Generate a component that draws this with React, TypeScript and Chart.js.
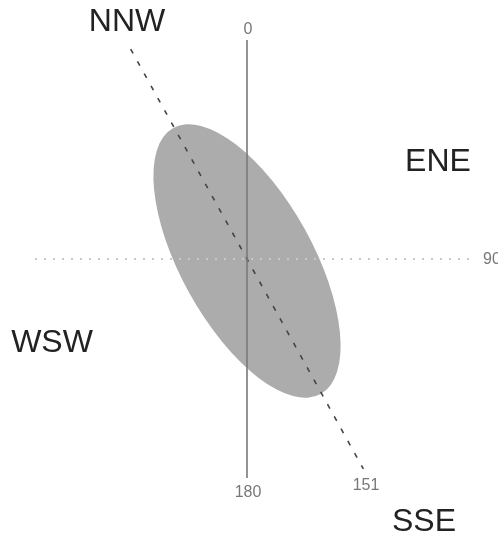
import React, { useEffect, useRef } from 'react';
import { Chart, registerables } from 'chart.js';

Chart.register(...registerables);

// Compass direction labels and their positions (data units, 1 unit = 100 px)
const compassLabels = ['NNW', 'ENE', 'WSW', 'SSE'];
const compassX = [-1.2, 1.91, -1.95, 1.77];
const compassY = [2.37, 0.97, -0.84, -2.63];

// Axis end labels (bearings in degrees)
const axisLabels = ['0', '90', '180', '151'];
const axisLabelX = [0.01, 2.45, 0.01, 1.19];
const axisLabelY = [2.29, -0.01, -2.34, -2.27];

// Reference axes
const northSouthAxis = [
  { x: 0, y: 2.19 },
  { x: 0, y: -2.19 },
];
const eastWestAxis = [
  { x: -2.12, y: 0 },
  { x: 2.23, y: 0 },
];

// Principal axis and variance ellipse
const principalBearing = 151; // degrees clockwise from north
const principalHalfLength = 2.4;
const ellipseCenter = [0, -0.02];
const ellipseSemiAxes = [1.52, 0.66];

const rad = (principalBearing * Math.PI) / 180;
const principalAxis = [
  { x: -principalHalfLength * Math.sin(rad), y: -principalHalfLength * Math.cos(rad) },
  { x: principalHalfLength * Math.sin(rad), y: principalHalfLength * Math.cos(rad) },
];

const ellipsePlugin = {
  id: 'varianceEllipse',
  beforeDatasetsDraw(chart: any) {
    const { ctx, scales } = chart;
    const xs = scales.x;
    const ys = scales.y;
    const cx = xs.getPixelForValue(ellipseCenter[0]);
    const cy = ys.getPixelForValue(ellipseCenter[1]);
    const rMajor = Math.abs(xs.getPixelForValue(ellipseSemiAxes[0]) - xs.getPixelForValue(0));
    const rMinor = Math.abs(xs.getPixelForValue(ellipseSemiAxes[1]) - xs.getPixelForValue(0));
    const dx = xs.getPixelForValue(Math.sin(rad)) - xs.getPixelForValue(0);
    const dy = ys.getPixelForValue(Math.cos(rad)) - ys.getPixelForValue(0);
    const rot = Math.atan2(dy, dx);
    ctx.save();
    ctx.beginPath();
    ctx.ellipse(cx, cy, rMajor, rMinor, rot, 0, Math.PI * 2);
    ctx.fillStyle = '#acacac';
    ctx.fill();
    ctx.restore();
  },
};

const labelPlugin = {
  id: 'compassLabels',
  afterDatasetsDraw(chart: any) {
    const { ctx, scales } = chart;
    const xs = scales.x;
    const ys = scales.y;
    ctx.save();
    ctx.textAlign = 'center';
    ctx.textBaseline = 'middle';
    ctx.font = '32px "Liberation Sans", Arial, sans-serif';
    ctx.fillStyle = '#222';
    compassLabels.forEach((t, i) => {
      ctx.fillText(t, xs.getPixelForValue(compassX[i]), ys.getPixelForValue(compassY[i]));
    });
    ctx.font = '16px "Liberation Sans", Arial, sans-serif';
    ctx.fillStyle = '#777';
    axisLabels.forEach((t, i) => {
      ctx.fillText(t, xs.getPixelForValue(axisLabelX[i]), ys.getPixelForValue(axisLabelY[i]));
    });
    ctx.restore();
  },
};

export default function App() {
  const ref = useRef<HTMLCanvasElement | null>(null);
  useEffect(() => {
    if (!ref.current) return;
    const chart = new Chart(ref.current, {
      type: 'scatter',
      data: {
        datasets: [
          {
            label: 'N-S',
            data: northSouthAxis,
            showLine: true,
            borderColor: '#7a7a7a',
            borderWidth: 1.6,
            pointRadius: 0,
          },
          {
            label: 'E-W',
            data: eastWestAxis,
            showLine: true,
            borderColor: '#c8c8c8',
            borderWidth: 2,
            borderDash: [2, 7],
            pointRadius: 0,
          },
          {
            label: 'Principal',
            data: principalAxis,
            showLine: true,
            borderColor: '#444',
            borderWidth: 1.6,
            borderDash: [5, 9],
            pointRadius: 0,
          },
        ],
      },
      options: {
        animation: false,
        responsive: false,
        devicePixelRatio: 1,
        layout: { padding: 0, autoPadding: false },
        plugins: { legend: { display: false }, tooltip: { enabled: false } },
        scales: {
          x: { type: 'linear', min: -2.47, max: 2.51, display: false },
          y: { type: 'linear', min: -2.78, max: 2.59, display: false },
        },
      },
      plugins: [ellipsePlugin, labelPlugin],
    });
    return () => chart.destroy();
  }, []);
  return (
    <div style={{ position: 'absolute', left: 0, top: 0, width: 498, height: 537, background: '#fff' }}>
      <canvas ref={ref} width={498} height={537} style={{ display: 'block' }} />
    </div>
  );
}
